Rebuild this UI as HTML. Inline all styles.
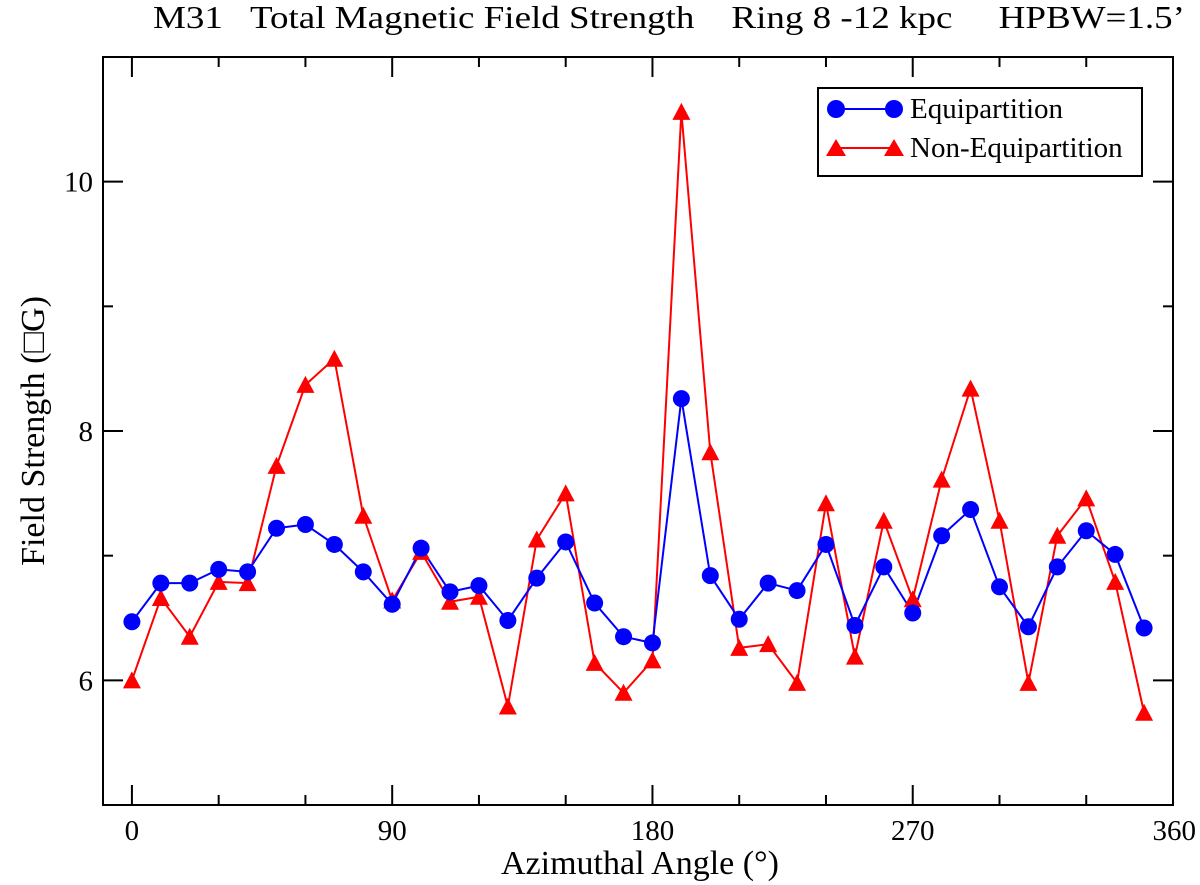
<!DOCTYPE html>
<html><head><meta charset="utf-8"><style>
body{margin:0;background:#fff}
svg{display:block;font-family:"Liberation Serif",serif}
</style></head><body>
<svg id="c" width="1200" height="885" viewBox="0 0 1200 885">
<text x="669" y="28" font-size="32" text-anchor="middle" textLength="1032" lengthAdjust="spacingAndGlyphs" xml:space="preserve">M31   Total Magnetic Field Strength    Ring 8 -12 kpc     HPBW=1.5’</text>
<text x="640" y="874" font-size="34" text-anchor="middle">Azimuthal Angle (°)</text>
<text transform="translate(44,431) rotate(-90)" font-size="34" text-anchor="middle">Field Strength (□G)</text>
<g id="ax"></g><g id="series"></g>
<g>
<rect x="818" y="88" width="324" height="88" fill="#fff" stroke="#000" stroke-width="2"/>
<line x1="834" y1="109" x2="896" y2="109" stroke="#0000ff" stroke-width="2"/>
<circle cx="836" cy="109" r="9" fill="#0000ff"/><circle cx="894" cy="109" r="9" fill="#0000ff"/>
<text x="910" y="118" font-size="29">Equipartition</text>
<line x1="834" y1="148" x2="896" y2="148" stroke="#ff0000" stroke-width="2"/>
<polygon points="826,156 846,156 836,139" fill="#ff0000"/><polygon points="884,156 904,156 894,139" fill="#ff0000"/>
<text x="910" y="157" font-size="29">Non-Equipartition</text>
</g>
</svg>
<script>
const angles=[0,10,20,30,40,50,60,70,80,90,100,110,120,130,140,150,160,170,180,190,200,210,220,230,240,250,260,270,280,290,300,310,320,330,340,350];
const equip=[6.47,6.78,6.78,6.89,6.87,7.22,7.25,7.09,6.87,6.61,7.06,6.71,6.76,6.48,6.82,7.11,6.62,6.35,6.30,8.26,6.84,6.49,6.78,6.72,7.09,6.44,6.91,6.54,7.16,7.37,6.75,6.43,6.91,7.20,7.01,6.42];
const nonEquip=[6.00,6.66,6.35,6.79,6.78,7.72,8.37,8.58,7.32,6.64,7.03,6.63,6.67,5.79,7.13,7.50,6.14,5.90,6.16,10.56,7.83,6.26,6.29,5.98,7.42,6.19,7.28,6.65,7.61,8.34,7.28,5.98,7.16,7.46,6.79,5.74];
const xTicks=[0,90,180,270,360];
const yTicks=[6,8,10];
const L=103,R=1173,T=57,B=805,X0=-10,X1=360,Y0=5,Y1=11;
const sx=v=>L+(v-X0)/(X1-X0)*(R-L), sy=v=>B-(v-Y0)/(Y1-Y0)*(B-T);
const NS='http://www.w3.org/2000/svg';
function mk(t,a,p){const e=document.createElementNS(NS,t);for(const k in a)e.setAttribute(k,a[k]);p.appendChild(e);return e;}
const ax=document.getElementById('ax'),sg=document.getElementById('series');
const frame=mk('rect',{x:L,y:T,width:R-L,height:B-T,fill:'none',stroke:'#000','stroke-width':2},ax);


for(let v=0;v<=360;v+=30){const x=sx(v),len=v%90===0?20:10;
mk('line',{x1:x,y1:B,x2:x,y2:B-len,stroke:'#000','stroke-width':2},ax);
mk('line',{x1:x,y1:T,x2:x,y2:T+len,stroke:'#000','stroke-width':2},ax);}
for(let v=5;v<=11;v+=1){const y=sy(v),len=v%2===0?20:10;
mk('line',{x1:L,y1:y,x2:L+len,y2:y,stroke:'#000','stroke-width':2},ax);
mk('line',{x1:R,y1:y,x2:R-len,y2:y,stroke:'#000','stroke-width':2},ax);}
xTicks.forEach(v=>{const t=mk('text',{x:sx(v),y:B+35,'font-size':29,'text-anchor':v===360?'end':'middle'},ax);
if(v===360)t.setAttribute('x',1196);
t.textContent=v;

});
yTicks.forEach(v=>{const t=mk('text',{x:L-10,y:sy(v)+10,'font-size':29,'text-anchor':'end'},ax);t.textContent=v;

});
function line(vals,col,name){const pl=mk('polyline',{points:angles.map((a,i)=>sx(a)+','+sy(vals[i])).join(' '),fill:'none',stroke:col,'stroke-width':2},sg);

}
line(nonEquip,'#ff0000','non-equipartition');
line(equip,'#0000ff','equipartition');
angles.forEach((a,i)=>{const x=sx(a),y=sy(nonEquip[i]);
const p=mk('polygon',{points:`${x-9},${y+8} ${x+9},${y+8} ${x},${y-9}`,fill:'#ff0000'},sg);

});
angles.forEach((a,i)=>{const c=mk('circle',{cx:sx(a),cy:sy(equip[i]),r:8.5,fill:'#0000ff'},sg);

});
</script>
</body></html>
